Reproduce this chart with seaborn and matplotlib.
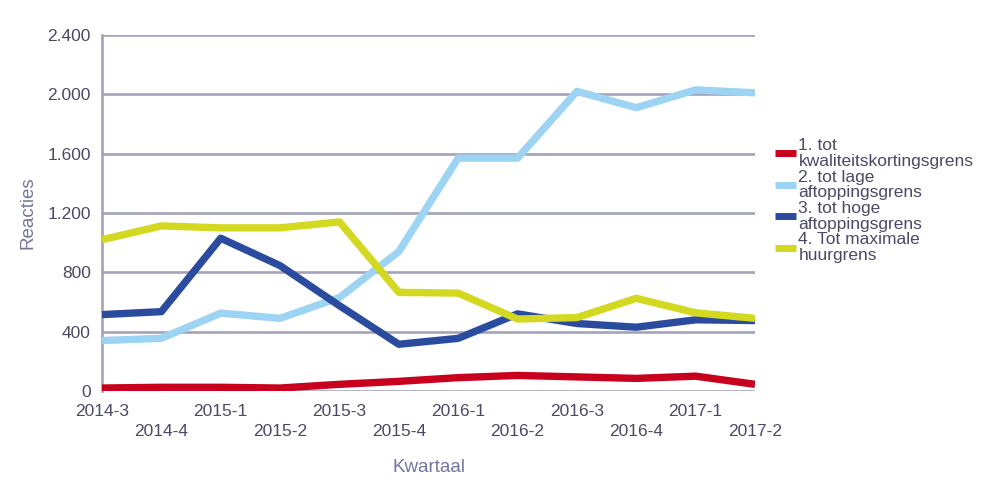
import matplotlib
matplotlib.use("Agg")
import matplotlib.pyplot as plt
import seaborn as sns
import pandas as pd
import numpy as np

quarters = ["2014-3", "2014-4", "2015-1", "2015-2", "2015-3", "2015-4",
            "2016-1", "2016-2", "2016-3", "2016-4", "2017-1", "2017-2"]
series_names = ["1. tot\nkwaliteitskortingsgrens",
                "2. tot lage\naftoppingsgrens",
                "3. tot hoge\naftoppingsgrens",
                "4. Tot maximale\nhuurgrens"]
s1 = [20, 25, 25, 20, 45, 65, 90, 105, 95, 85, 100, 45]
s2 = [340, 355, 525, 490, 630, 940, 1570, 1570, 2020, 1910, 2030, 2010]
s3 = [515, 535, 1030, 845, 575, 315, 355, 520, 455, 430, 480, 475]
s4 = [1020, 1113, 1100, 1100, 1140, 665, 660, 485, 495, 625, 527, 490]
colors = ["#C8001E", "#9DD3F3", "#2B4C9E", "#D3D821"]
yticks = [0, 400, 800, 1200, 1600, 2000, 2400]
ytick_labels = ["0", "400", "800", "1.200", "1.600", "2.000", "2.400"]

rows = []
for name, vals in zip(series_names, [s1, s2, s3, s4]):
    for i, (q, v) in enumerate(zip(quarters, vals)):
        rows.append({"idx": i, "Kwartaal": q, "Reacties": v, "serie": name})
df = pd.DataFrame(rows)

sns.set_theme(style="white")
plt.rcParams["font.family"] = ["Liberation Sans", "DejaVu Sans"]

fig = plt.figure(figsize=(9.97, 4.96), dpi=100)
ax = fig.add_axes([102/997, 1-391/496, (755-102)/997, (391-35)/496])

grid_c = "#A3A3BA"
for y in yticks:
    ax.axhline(y, color=grid_c, lw=1.9, zorder=0)

sns.lineplot(data=df, x="idx", y="Reacties", hue="serie", palette=colors,
             hue_order=series_names, lw=5.3, sort=False, ax=ax, zorder=3,
             legend=True)
for line in ax.get_lines():
    line.set_solid_joinstyle("round")
    line.set_solid_capstyle("butt")

ax.set_xlim(0, len(quarters) - 1)
ax.set_ylim(0, 2400)
for s in ["top", "right", "bottom"]:
    ax.spines[s].set_visible(False)
ax.spines["left"].set_color(grid_c)
ax.spines["left"].set_linewidth(1.9)

tick_c = "#4A4A66"
ax.set_yticks(yticks)
ax.set_yticklabels(ytick_labels, fontsize=12.5, color=tick_c)
major = list(range(0, len(quarters), 2))
minor = list(range(1, len(quarters), 2))
ax.set_xticks(major)
ax.set_xticklabels([quarters[i] for i in major], fontsize=12.5, color=tick_c)
ax.set_xticks(minor, minor=True)
ax.set_xticklabels([quarters[i] for i in minor], minor=True, fontsize=12.5, color=tick_c)
ax.tick_params(axis="x", which="major", length=0, pad=9)
ax.tick_params(axis="x", which="minor", length=0, pad=24)
ax.tick_params(axis="y", length=0, pad=8)

lab_c = "#7575A0"
ax.set_xlabel("Kwartaal", fontsize=13.5, color=lab_c, labelpad=14)
ax.set_ylabel("Reacties", fontsize=13.5, color=lab_c, labelpad=14)
ax.yaxis.set_label_coords(-0.10, 0.5)

handles, labels = ax.get_legend_handles_labels()
leg = ax.legend(handles, labels, loc="center left", bbox_to_anchor=(1.02, 0.535),
                frameon=False, fontsize=12.5, handlelength=1.2, handletextpad=0.15,
                labelspacing=0.05, borderaxespad=0)
for t in leg.get_texts():
    t.set_color(tick_c)
    t.set_linespacing(1.05)
for h in leg.get_lines():
    h.set_linewidth(5)

fig.savefig("out.png", dpi=100, facecolor="white")
